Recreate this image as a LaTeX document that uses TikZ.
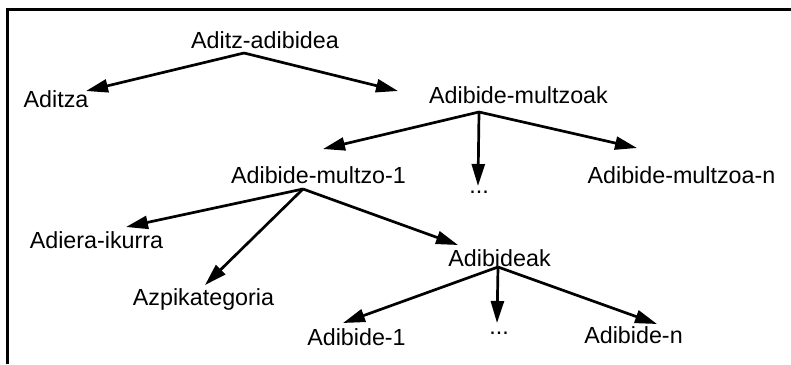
\documentclass[tikz,border=0pt]{standalone}
\usepackage{fontspec}
\setmainfont{Liberation Sans}
\usetikzlibrary{arrows.meta}
\begin{document}
\begin{tikzpicture}[x=1pt,y=-1pt,
  lbl/.style={anchor=base,inner sep=0pt,font=\fontsize{23.3}{26}\selectfont},
  arr/.style={line width=2.7pt,-{Triangle[length=22pt,width=13pt]}},
  frame/.style={line width=3pt}]
\useasboundingbox (0,0) rectangle (791,364);
\draw[frame] (7,364) -- (7,9) -- (791,9);
% nodes
\node[lbl] (top) at (265,48) {Aditz-adibidea};
\node[lbl] (aditza) at (56,107) {Aditza};
\node[lbl] (mz) at (518.5,103) {Adibide-multzoak};
\node[lbl] (m1) at (318.5,183) {Adibide-multzo-1};
\node[lbl] (dots1) at (479,193) {...};
\node[lbl] (mzn) at (681.5,183) {Adibide-multzoa-n};
\node[lbl] (adiera) at (96.5,248) {Adiera-ikurra};
\node[lbl] (azpi) at (203.5,305) {Azpikategoria};
\node[lbl] (adibideak) at (499.5,266) {Adibideak};
\node[lbl] (a1) at (356.5,345) {Adibide-1};
\node[lbl] (dots2) at (499,334) {...};
\node[lbl] (an) at (633.5,343) {Adibide-n};
% branching points
\coordinate (top-out) at (244,53);
\coordinate (mz-out) at (479,112);
\coordinate (m1-out) at (303,189);
\coordinate (adibideak-out) at (498,267);
% arrow ends
\coordinate (aditza-in) at (86,91);
\coordinate (mz-in) at (398,91);
\coordinate (m1-in) at (323,149);
\coordinate (dots1-in) at (478,186);
\coordinate (mzn-in) at (637,148);
\coordinate (adiera-in) at (126,227);
\coordinate (azpi-in) at (205,285);
\coordinate (adibideak-in) at (458,245);
\coordinate (a1-in) at (343,323);
\coordinate (dots2-in) at (497,323);
\coordinate (an-in) at (657,324);
% connectors
\draw[arr] (top-out) -- (aditza-in);
\draw[arr] (top-out) -- (mz-in);
\draw[arr] (mz-out) -- (m1-in);
\draw[arr] (mz-out) -- (dots1-in);
\draw[arr] (mz-out) -- (mzn-in);
\draw[arr] (m1-out) -- (adiera-in);
\draw[arr] (m1-out) -- (azpi-in);
\draw[arr] (m1-out) -- (adibideak-in);
\draw[arr] (adibideak-out) -- (a1-in);
\draw[arr] (adibideak-out) -- (dots2-in);
\draw[arr] (adibideak-out) -- (an-in);
\end{tikzpicture}
\end{document}
